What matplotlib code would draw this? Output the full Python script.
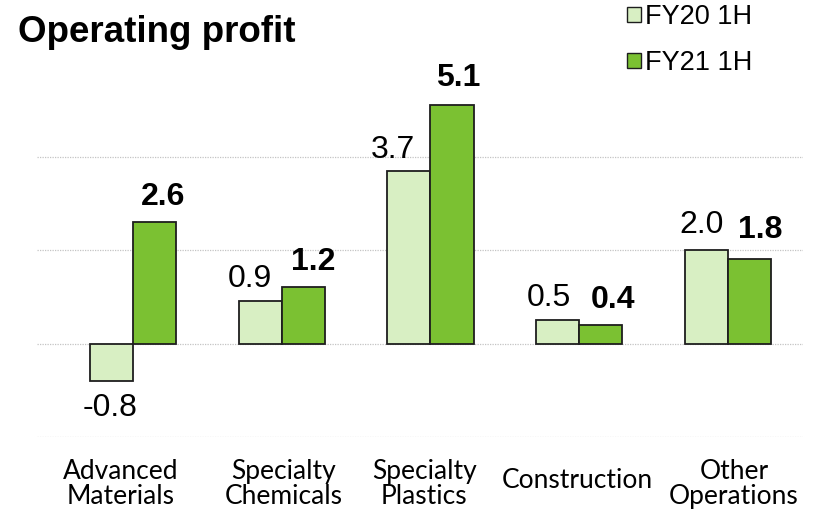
import matplotlib
matplotlib.use("Agg")
import matplotlib.pyplot as plt
import matplotlib.transforms as mtransforms
import numpy as np
from matplotlib.patches import Patch

categories = ["Advanced\nMaterials", "Specialty\nChemicals", "Specialty\nPlastics",
              "Construction", "Other\nOperations"]
fy20 = [-0.8, 0.9, 3.7, 0.5, 2.0]
fy21 = [2.6, 1.2, 5.1, 0.4, 1.8]
series_names = ["FY20 1H", "FY21 1H"]
title = "Operating profit"

c20 = "#D8EFC3"
c21 = "#7BC132"
edge = "#1E1E1E"

fig = plt.figure(figsize=(8.22, 5.11), dpi=100)
ax = fig.add_axes([37/822, 1-437/511, (803-37)/822, (437-63)/511])

x = np.arange(len(categories))
w = 0.29
ax.bar(x - w/2, fy20, w, color=c20, edgecolor=edge, linewidth=1.3, zorder=3)
ax.bar(x + w/2, fy21, w, color=c21, edgecolor=edge, linewidth=1.3, zorder=3)

ax.set_xlim(-0.645, 4.505)
ax.set_ylim(-2, 6)
for yv in [-2, 0, 2, 4]:
    ax.axhline(yv, color="#C4C4C4", linewidth=0.9, linestyle=(0, (1, 1)), zorder=1)

for s in ax.spines.values():
    s.set_visible(False)
ax.set_yticks([])
ax.set_xticks(x)
ax.set_xticklabels(categories, fontfamily="Lato", fontsize=19, linespacing=1.0)
ax.tick_params(axis="x", length=0, pad=16)
lbl_dx = [-12, 2, -6, -2, 6]   # pixel nudges of category labels
for k, lbl in enumerate(ax.get_xticklabels()):
    ddy = 0 if "\n" in lbl.get_text() else -6
    lbl.set_transform(lbl.get_transform() +
                      mtransforms.ScaledTranslation(lbl_dx[k]/100, ddy/72, fig.dpi_scale_trans))

lab_font = "Liberation Sans"
PX = 0.72  # points per pixel at 100 dpi
dx20 = [-1, -10, -16, -9, -5]
dy20 = [12, 14, 13, 14, 17]
dx21 = [9, 10, 6, 12, 11]
dy21 = [17, 17, 19, 17, 21]
for i, v in enumerate(fy20):
    if v >= 0:
        ax.annotate(f"{v:.1f}", (x[i] - w/2, v), xytext=(dx20[i]*PX, dy20[i]*PX),
                    textcoords="offset points", ha="center", va="baseline",
                    fontfamily=lab_font, fontsize=23)
    else:
        ax.annotate(f"{v:.1f}", (x[i] - w/2, v), xytext=(dx20[i]*PX, -dy20[i]*PX),
                    textcoords="offset points", ha="center", va="top",
                    fontfamily=lab_font, fontsize=23)
for i, v in enumerate(fy21):
    ax.annotate(f"{v:.1f}", (x[i] + w/2, v), xytext=(dx21[i]*PX, dy21[i]*PX),
                textcoords="offset points", ha="center", va="baseline",
                fontfamily=lab_font, fontsize=23, fontweight="bold")

fig.text(18/822, 1-42/511, title, fontfamily=lab_font, fontsize=26.5,
         fontweight="bold", va="baseline", ha="left")

handles = [Patch(facecolor=c20, edgecolor=edge, linewidth=1.0),
           Patch(facecolor=c21, edgecolor=edge, linewidth=1.0)]
fig.legend(handles, series_names, loc="upper left", bbox_to_anchor=(627/822, 1 - 4/511),
           frameon=False, prop={"family": lab_font, "size": 19.5},
           handlelength=0.5, handleheight=0.5, handletextpad=0.15,
           labelspacing=0.74, borderaxespad=0, borderpad=0)

fig.savefig("out.png", dpi=100)
